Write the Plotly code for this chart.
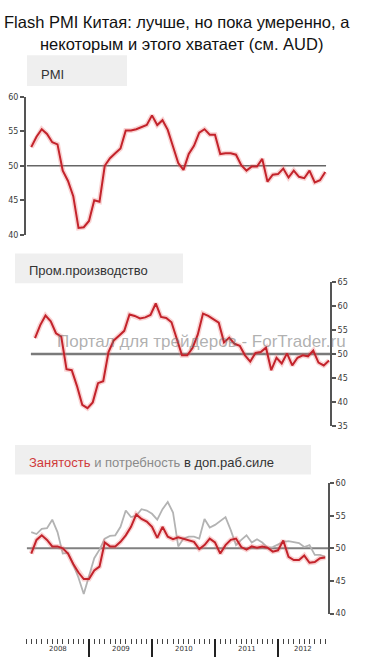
import plotly.graph_objects as go

# ---- data (monthly, Feb 2008 .. Oct 2012) ----
months = [f"{y}-{m:02d}" for y in range(2008, 2013) for m in range(1, 13)]
months = months[1:58]  # Feb 2008 .. Oct 2012
month_idx = list(range(1, 58))  # months since Jan 2008

pmi = [52.7, 54.2, 55.3, 54.6, 53.4, 53.1, 49.3, 47.8, 45.6, 41.0, 41.1, 42.0,
       45.0, 44.8, 50.0, 51.1, 51.8, 52.5, 55.1, 55.1, 55.3, 55.6, 55.9, 57.3,
       55.9, 56.6, 55.2, 52.8, 50.4, 49.4, 51.7, 52.9, 54.8, 55.3, 54.5, 54.5,
       51.7, 51.8, 51.8, 51.6, 50.1, 49.3, 49.9, 49.9, 51.0, 47.7, 48.7, 48.8,
       49.6, 48.3, 49.3, 48.4, 48.2, 49.3, 47.6, 47.9, 49.1]

output = [53.3, 56.0, 58.0, 56.8, 54.3, 53.6, 46.8, 46.6, 43.3, 39.4, 38.7, 39.9,
          43.9, 44.3, 50.4, 52.8, 53.8, 54.8, 58.2, 57.9, 57.4, 57.6, 58.1, 60.5,
          57.7, 57.5, 56.6, 53.0, 49.7, 49.7, 51.2, 54.0, 58.4, 57.9, 57.2, 56.5,
          52.4, 53.4, 52.1, 51.7, 49.7, 48.4, 50.2, 50.4, 51.3, 46.6, 49.2, 48.0,
          50.1, 47.6, 49.2, 49.7, 49.5, 50.7, 48.2, 47.6, 48.6]

employment = [49.2, 51.3, 52.0, 51.3, 50.3, 50.3, 50.0, 49.2, 47.6, 46.3, 45.3, 45.3,
              46.6, 47.2, 50.9, 50.3, 50.3, 51.0, 52.0, 53.3, 55.2, 54.5, 54.1, 53.3,
              51.6, 53.3, 51.8, 51.4, 51.7, 51.5, 51.2, 51.0, 49.9, 50.5, 51.5, 50.9,
              49.2, 50.5, 51.3, 51.5, 50.2, 49.8, 50.3, 50.1, 50.3, 50.1, 49.5, 49.7,
              51.2, 48.7, 48.2, 48.2, 48.9, 47.8, 47.9, 48.5, 48.6]

labour_need = [52.5, 52.2, 53.0, 53.1, 54.4, 52.5, 49.2, 49.3, 47.5, 45.5, 43.0, 45.8,
               48.5, 49.8, 51.5, 51.9, 52.0, 53.3, 55.8, 54.8, 55.0, 56.0, 55.8, 55.3,
               54.4, 56.0, 57.1, 55.5, 50.3, 51.5, 51.8, 51.8, 51.5, 54.5, 53.2, 53.6,
               54.2, 54.8, 52.8, 50.5, 51.3, 52.0, 50.9, 51.4, 50.9, 50.1, 50.2, 50.6,
               51.0, 51.1, 51.0, 50.8, 50.2, 50.5, 49.0, 49.0, 48.7]

years = ["2008", "2009", "2010", "2011", "2012"]
year_starts = [12, 24, 36, 48]
year_centers = [6, 18, 30, 42, 52.75]
ticks_p1 = [40, 45, 50, 55, 60]
ticks_p2 = [35, 40, 45, 50, 55, 60, 65]
ticks_p3 = [40, 45, 50, 55, 60]

W, H = 372, 664
def fx(px): return px / W
def fy(py): return 1 - py / H

RED = "#c3232b"
HALO = "rgba(235,110,110,0.30)"
GRAY = "#b3b3b3"

fig = go.Figure()

def red_line(y, xa, ya):
    fig.add_trace(go.Scatter(x=month_idx, y=y, mode="lines", xaxis=xa, yaxis=ya,
                             line=dict(color=HALO, width=5), hoverinfo="skip",
                             showlegend=False))
    fig.add_trace(go.Scatter(x=month_idx, y=y, mode="lines", xaxis=xa, yaxis=ya,
                             line=dict(color=RED, width=2), showlegend=False))

red_line(pmi, "x", "y")
red_line(output, "x2", "y2")
fig.add_trace(go.Scatter(x=month_idx, y=labour_need, mode="lines", xaxis="x3", yaxis="y3",
                         line=dict(color=GRAY, width=1.8), showlegend=False))
red_line(employment, "x3", "y3")

axis_font = dict(family="DejaVu Sans", size=8, color="#3a3a3a")
def yax(domain, rng, tv, side, anchor):
    return dict(domain=domain, range=rng, tickvals=tv, side=side, anchor=anchor,
                showline=True, linecolor="#555", linewidth=2, ticks="outside",
                ticklen=4, tickwidth=1.5, tickcolor="#555", tickfont=axis_font,
                showgrid=False, zeroline=False, fixedrange=True)
def xax(domain, rng, anchor):
    return dict(domain=domain, range=rng, anchor=anchor, visible=False,
                showgrid=False, zeroline=False)

fig.update_layout(
    width=W, height=H, margin=dict(l=0, r=0, t=0, b=0),
    paper_bgcolor="white", plot_bgcolor="rgba(0,0,0,0)", showlegend=False,
    xaxis=xax([fx(26), fx(330)], [0, 57.905], "y"),
    yaxis=yax([fy(234), fy(94)], [40, 60], ticks_p1, "left", "x"),
    xaxis2=xax([fx(30), fx(330)], [0.048, 57.19], "y2"),
    yaxis2=yax([fy(427.7), fy(281.7)], [35, 65], ticks_p2, "right", "x2"),
    xaxis3=xax([fx(26), fx(328)], [0, 57.52], "y3"),
    yaxis3=yax([fy(618), fy(485.7)], [40, 60], ticks_p3, "right", "x3"),
    xaxis4=dict(domain=[fx(26), fx(328)], range=[0, 57.52], anchor="y4",
                showline=False, showgrid=False, zeroline=False,
                tickvals=year_starts, ticks="outside", ticklen=18, tickwidth=2,
                tickcolor="#222", showticklabels=False,
                minor=dict(tickvals=list(range(0, 58)), ticks="outside", ticklen=5,
                           tickwidth=1.3, tickcolor="#444", showgrid=False)),
    yaxis4=dict(domain=[fy(643), fy(632)], range=[0, 1], anchor="x4", visible=False),
)

# reference lines at 50
fig.add_shape(type="line", xref="x domain", yref="y", x0=0.003, x1=0.987, y0=50, y1=50,
              line=dict(color="#666", width=1.5), layer="below")
fig.add_shape(type="line", xref="x2 domain", yref="y2", x0=0.003, x1=1, y0=50, y1=50,
              line=dict(color="#7a7a7a", width=2.5), layer="below")
fig.add_shape(type="line", xref="x3 domain", yref="y3", x0=0.003, x1=1, y0=50, y1=50,
              line=dict(color="#808080", width=2), layer="below")

# label boxes
for (x0, x1, y0, y1) in [(27, 127, 52, 83), (15, 183, 253, 283), (15, 311, 447, 477)]:
    fig.add_shape(type="rect", xref="paper", yref="paper",
                  x0=fx(x0), x1=fx(x1), y0=fy(y1), y1=fy(y0),
                  fillcolor="#efefef", line=dict(width=0), layer="below")

lab_font = dict(family="Liberation Sans", size=13, color="#333")
def ann(text, x, y, font, xanchor="left"):
    fig.add_annotation(text=text, xref="paper", yref="paper", x=fx(x), y=fy(y),
                       xanchor=xanchor, yanchor="middle", showarrow=False, font=font)

ann("PMI", 39, 71.5, lab_font)
ann("Пром.производство", 27, 270.5, lab_font)
ann("<span style='color:#cf3b3b'>Занятость</span>"
    "<span style='color:#8a8a8a'> и потребность</span>"
    "<span style='color:#333'> в доп.раб.силе</span>", 27, 465, lab_font)

title_font = dict(family="Liberation Sans", size=16.5, color="#111")
ann("Flash PMI Китая: лучше, но пока умеренно, а", 177, 18.5, title_font, "center")
ann("некоторым и этого хватает (см. AUD)", 181, 41, title_font, "center")

ann("Портал для трейдеров - ForTrader.ru", 55, 342,
    dict(family="Liberation Sans", size=17, color="rgba(110,110,110,0.55)"))

for yr, xc in zip(years, year_centers):
    fig.add_annotation(text=yr, xref="x4", yref="paper", x=xc, y=fy(654),
                       xanchor="center", yanchor="middle", showarrow=False,
                       font=dict(family="DejaVu Sans", size=7, color="#333"))

fig.write_html("out.html")
